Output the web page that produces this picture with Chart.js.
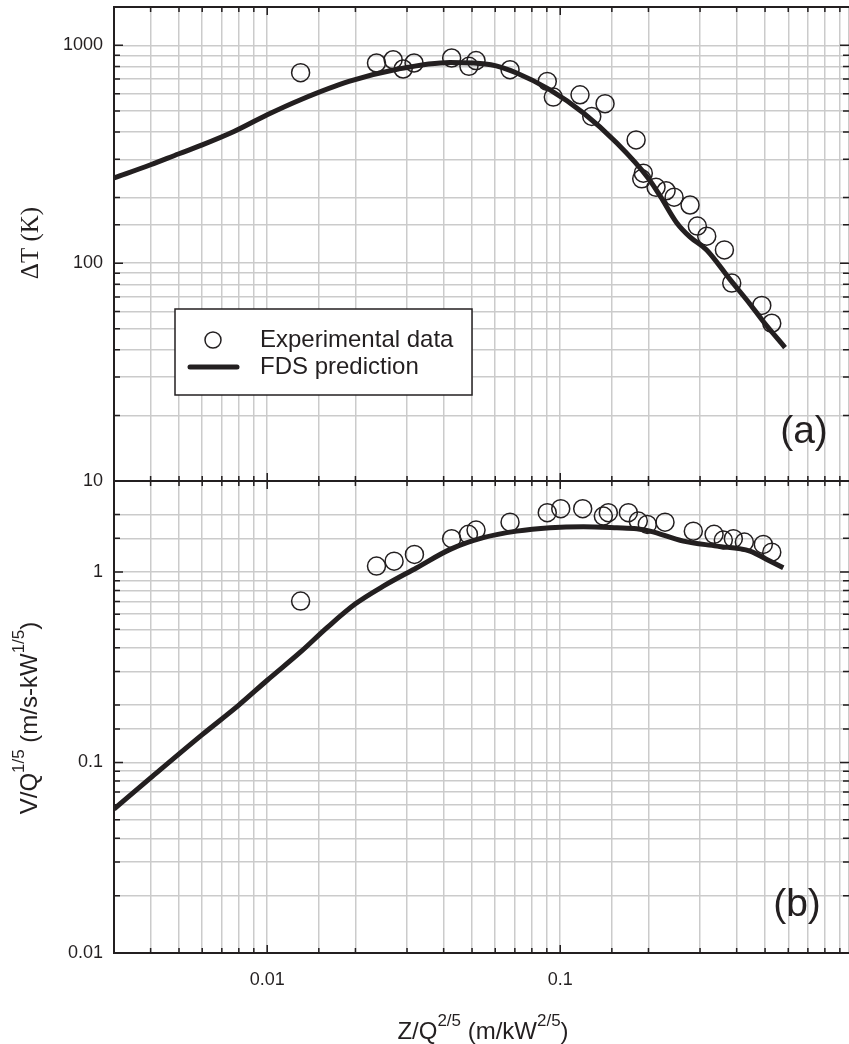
<!DOCTYPE html>
<html>
<head>
<meta charset="utf-8">
<script src="https://cdn.jsdelivr.net/npm/chart.js@4.4.1/dist/chart.umd.min.js"></script>
<style>
  html, body { margin: 0; padding: 0; background: #fff; }
  #wrap { position: relative; width: 849px; height: 1044px; }
  #wrap canvas { position: absolute; left: 0; top: 0; }
</style>
</head>
<body>
<div id="wrap">
  <canvas id="chartTop" width="849" height="1044"></canvas>
  <canvas id="chartBot" width="849" height="1044"></canvas>
</div>
<script>
const INK = '#231f20';
const GRID = '#cbcbcb';
const SANS = '"Liberation Sans", Arial, sans-serif';
const SERIF = '"Liberation Serif", "Times New Roman", serif';

// shared x axis  Z/Q^(2/5)
const zMin = 0.003;
const zMax = 0.967;
const xTickLabels = [0.01, 0.1];

// (a) temperature rise
const topExpZ = [0.0130, 0.0236, 0.0269, 0.0291, 0.0317, 0.0426, 0.0488, 0.0516, 0.0674, 0.0903, 0.0947, 0.1168, 0.1281, 0.1422,
  0.1815, 0.1921, 0.1897, 0.2123, 0.2297, 0.2446, 0.2773, 0.2937, 0.3162, 0.3633, 0.3848, 0.4873, 0.5271];
const topExpT = [749, 830, 859, 779, 830, 875, 801, 851, 773, 683, 579, 593, 472, 540,
  368, 259, 244, 223, 215, 201, 185, 148, 133, 115, 81, 64, 53];
const topFdsZ = [0.003, 0.004, 0.005, 0.006, 0.0077, 0.01, 0.013, 0.019, 0.028, 0.042, 0.058, 0.071, 0.092, 0.12,
  0.156, 0.2, 0.22, 0.25, 0.277, 0.316, 0.38, 0.444, 0.493, 0.585];
const topFdsT = [246, 283, 318, 349, 402, 480, 563, 683, 779, 835, 815, 747, 626, 489,
  356, 245, 202, 153, 132, 115, 84, 65, 54, 41];
const topYMin = 10, topYMax = 1500;
const topYTickLabels = [10, 100, 1000];

// (b) velocity
const botExpZ = [0.0130, 0.0236, 0.0271, 0.0318, 0.0426, 0.0486, 0.0516, 0.0674, 0.0903, 0.1004, 0.1193, 0.1403,
  0.1459, 0.1708, 0.1847, 0.1982, 0.2278, 0.2845, 0.3349, 0.3602, 0.3897, 0.4249, 0.4932, 0.5271];
const botExpV = [0.703, 1.073, 1.139, 1.236, 1.494, 1.574, 1.658, 1.825, 2.046, 2.147, 2.147, 1.963,
  2.046, 2.046, 1.848, 1.776, 1.825, 1.637, 1.574, 1.469, 1.494, 1.434, 1.394, 1.27];
const botFdsZ = [0.003, 0.004, 0.006, 0.008, 0.01, 0.013, 0.016, 0.02, 0.0249, 0.0324, 0.0421, 0.0546, 0.071,
  0.0923, 0.12, 0.156, 0.1825, 0.2025, 0.263, 0.342, 0.444, 0.507, 0.577];
const botFdsV = [0.057, 0.083, 0.14, 0.2, 0.27, 0.38, 0.51, 0.68, 0.842, 1.052, 1.313, 1.512, 1.637,
  1.706, 1.727, 1.706, 1.686, 1.637, 1.451, 1.366, 1.286, 1.163, 1.052];
const botYMin = 0.01, botYMax = 3;
const botYTickLabels = [0.01, 0.1, 1];

const pts = (xs, ys) => xs.map((x, i) => ({ x: x, y: ys[i] }));
const sameLog = (a, b) => Math.abs(Math.log10(a) - Math.log10(b)) < 1e-6;
const isDecade = v => Math.abs(Math.log10(v) - Math.round(Math.log10(v))) < 1e-6;
const labelFor = (v, list) => {
  const hit = list.find(t => sameLog(v, t));
  return hit === undefined ? '' : String(hit);
};

// text with superscripts, centred on (x, y) baseline
function drawRich(ctx, parts, x, y, rot, size, family) {
  const big = size + 'px ' + family;
  const small = Math.round(size * 0.7) + 'px ' + family;
  ctx.save();
  ctx.translate(x, y);
  ctx.rotate(rot);
  ctx.fillStyle = INK;
  ctx.textAlign = 'left';
  ctx.textBaseline = 'alphabetic';
  let w = 0;
  parts.forEach(p => { ctx.font = p.sup ? small : big; w += ctx.measureText(p.t).width; });
  let cx = -w / 2;
  parts.forEach(p => {
    ctx.font = p.sup ? small : big;
    ctx.fillText(p.t, cx, p.sup ? -size * 0.55 : 0);
    cx += ctx.measureText(p.t).width;
  });
  ctx.restore();
}

// frame with inward ticks, like the original plot
const framePlugin = {
  id: 'frame',
  afterDatasetsDraw(chart) {
    const { ctx, chartArea: a, scales } = chart;
    const x = scales.x, y = scales.y;
    ctx.save();
    ctx.strokeStyle = INK;
    ctx.lineWidth = 1.5;
    ctx.beginPath();
    x.ticks.forEach(t => {
      if (t.value <= x.min || t.value >= x.max) return;
      const px = x.getPixelForValue(t.value);
      const len = isDecade(t.value) ? 8 : 5;
      ctx.moveTo(px, a.top); ctx.lineTo(px, a.top + len);
      ctx.moveTo(px, a.bottom); ctx.lineTo(px, a.bottom - len);
    });
    y.ticks.forEach(t => {
      if (t.value <= y.min || t.value >= y.max) return;
      const py = y.getPixelForValue(t.value);
      const len = isDecade(t.value) ? 9 : 6;
      ctx.moveTo(a.left, py); ctx.lineTo(a.left + len, py);
      ctx.moveTo(a.right, py); ctx.lineTo(a.right - len, py);
    });
    ctx.stroke();
    ctx.lineWidth = 2;
    ctx.strokeRect(a.left, a.top, a.right + 3 - a.left, a.bottom - a.top);
    ctx.restore();
  }
};

function makeOptions(yMin, yMax, yLabels, showX, pad, xHeight) {
  return {
    responsive: false,
    animation: false,
    layout: { padding: pad, autoPadding: false },
    plugins: { legend: { display: false }, tooltip: { enabled: false } },
    scales: {
      x: {
        type: 'logarithmic', min: zMin, max: zMax,
        grid: { color: GRID, lineWidth: 1.5, drawTicks: false },
        border: { display: false },
        ticks: {
          display: showX, autoSkip: false, maxRotation: 0, padding: 16, color: INK,
          font: { family: SANS, size: 18 },
          callback: v => labelFor(v, xTickLabels)
        },
        afterFit: s => { s.height = xHeight; s.paddingLeft = 0; s.paddingRight = 0; }
      },
      y: {
        type: 'logarithmic', min: yMin, max: yMax,
        grid: { color: GRID, lineWidth: 1.5, drawTicks: false },
        border: { display: false },
        ticks: {
          autoSkip: false, padding: 11, color: INK,
          font: { family: SANS, size: 18 },
          callback: v => labelFor(v, yLabels)
        },
        afterFit: s => { s.width = 114; s.paddingTop = 0; s.paddingBottom = 0; }
      }
    }
  };
}

const expStyle = {
  showLine: false, pointRadius: 9, pointBorderWidth: 1.5,
  pointBackgroundColor: 'rgba(0,0,0,0)', pointBorderColor: INK, order: 1
};
const fdsStyle = {
  showLine: true, pointRadius: 0, borderWidth: 5, borderColor: INK,
  cubicInterpolationMode: 'monotone', order: 0
};

// top panel extras: legend, (a), y title
const topExtras = {
  id: 'topExtras',
  afterDraw(chart) {
    const ctx = chart.ctx;
    ctx.save();
    ctx.fillStyle = '#fff';
    ctx.fillRect(175, 309, 297, 86);
    ctx.strokeStyle = INK;
    ctx.lineWidth = 1.5;
    ctx.strokeRect(175, 309, 297, 86);
    ctx.beginPath();
    ctx.arc(213, 340, 8, 0, Math.PI * 2);
    ctx.stroke();
    ctx.lineWidth = 5;
    ctx.lineCap = 'round';
    ctx.beginPath();
    ctx.moveTo(190, 367); ctx.lineTo(237, 367);
    ctx.stroke();
    ctx.fillStyle = INK;
    ctx.font = '24px ' + SANS;
    ctx.textBaseline = 'middle';
    ctx.fillText('Experimental data', 260, 340);
    ctx.fillText('FDS prediction', 260, 367);
    ctx.font = '39px ' + SANS;
    ctx.textAlign = 'center';
    ctx.fillText('(a)', 804, 432);
    ctx.restore();
    drawRich(ctx, [{ t: '\u0394T (K)' }], 38, 243, -Math.PI / 2, 25, SERIF);
  }
};

const botExtras = {
  id: 'botExtras',
  afterDraw(chart) {
    const ctx = chart.ctx;
    ctx.save();
    ctx.fillStyle = INK;
    ctx.font = '39px ' + SANS;
    ctx.textAlign = 'center';
    ctx.textBaseline = 'middle';
    ctx.fillText('(b)', 797, 905);
    ctx.restore();
    drawRich(ctx, [{ t: 'V/Q' }, { t: '1/5', sup: true }, { t: ' (m/s-kW' }, { t: '1/5', sup: true }, { t: ')' }],
      37, 718, -Math.PI / 2, 24, SANS);
    drawRich(ctx, [{ t: 'Z/Q' }, { t: '2/5', sup: true }, { t: ' (m/kW' }, { t: '2/5', sup: true }, { t: ')' }],
      483, 1039, 0, 24, SANS);
  }
};

new Chart(document.getElementById('chartTop'), {
  type: 'scatter',
  data: {
    datasets: [
      Object.assign({ label: 'Experimental data', data: pts(topExpZ, topExpT) }, expStyle),
      Object.assign({ label: 'FDS prediction', data: pts(topFdsZ, topFdsT) }, fdsStyle)
    ]
  },
  options: makeOptions(topYMin, topYMax, topYTickLabels, false, { top: 7, bottom: 563, left: 0, right: 0 }, 0),
  plugins: [framePlugin, topExtras]
});

new Chart(document.getElementById('chartBot'), {
  type: 'scatter',
  data: {
    datasets: [
      Object.assign({ label: 'Experimental data', data: pts(botExpZ, botExpV) }, expStyle),
      Object.assign({ label: 'FDS prediction', data: pts(botFdsZ, botFdsV) }, fdsStyle)
    ]
  },
  options: makeOptions(botYMin, botYMax, botYTickLabels, true, { top: 481, bottom: 0, left: 0, right: 0 }, 91),
  plugins: [framePlugin, botExtras]
});
</script>
</body>
</html>
